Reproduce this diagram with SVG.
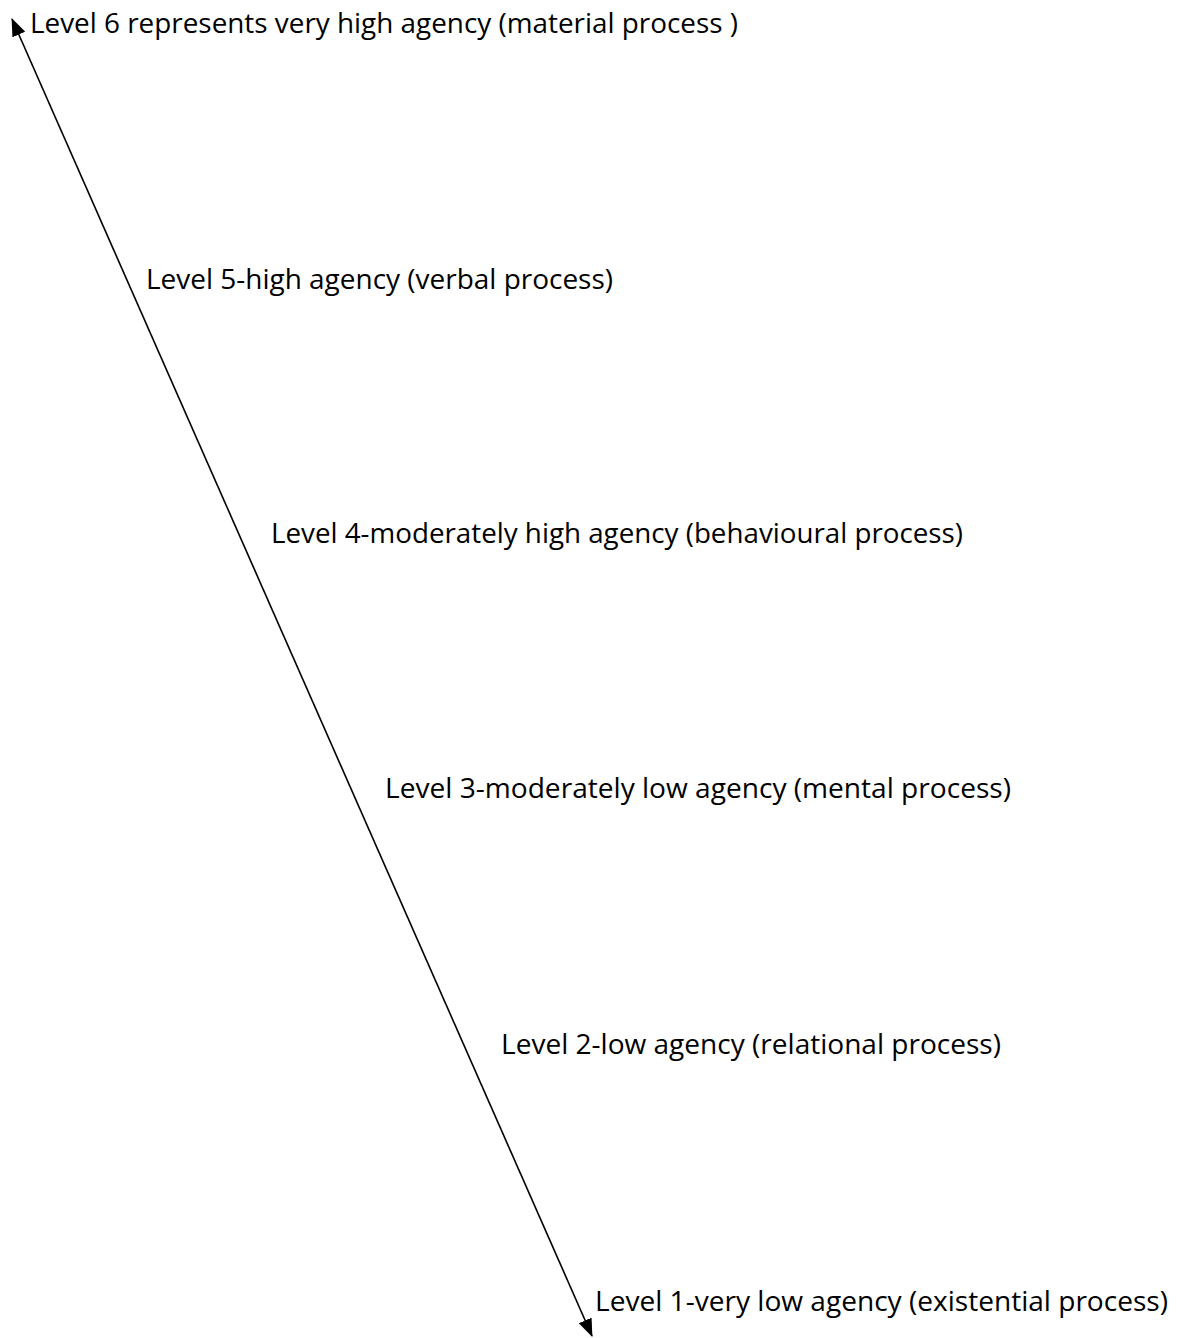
<svg xmlns="http://www.w3.org/2000/svg" width="1179" height="1338" viewBox="0 0 1179 1338">
  <style>
    .lbl { font-family: "Open Sans", "Noto Sans", "Liberation Sans", sans-serif; font-size: 27px; fill: #000; }
    .axis { stroke: #000; stroke-width: 1.6; fill: none; }
  </style>
  <defs>
    <marker id="head" viewBox="0 0 18 14" refX="17" refY="7" markerWidth="18" markerHeight="14" markerUnits="userSpaceOnUse" orient="auto-start-reverse">
      <path d="M0,0 L18,7 L0,14 Z" fill="#000"/>
    </marker>
  </defs>
  <rect width="1179" height="1338" fill="#fff"/>

  <!-- agency scale: double-headed diagonal axis -->
  <g id="connectors">
    <line class="axis" x1="12" y1="19" x2="592" y2="1336" marker-start="url(#head)" marker-end="url(#head)"/>
  </g>

  <g id="level6"><text class="lbl" x="30" y="33" textLength="708" lengthAdjust="spacingAndGlyphs">Level 6 represents very high agency (material process )</text></g>
  <g id="level5"><text class="lbl" x="146" y="289" textLength="467" lengthAdjust="spacingAndGlyphs">Level 5-high agency (verbal process)</text></g>
  <g id="level4"><text class="lbl" x="271" y="543" textLength="692" lengthAdjust="spacingAndGlyphs">Level 4-moderately high agency (behavioural process)</text></g>
  <g id="level3"><text class="lbl" x="385" y="798" textLength="626" lengthAdjust="spacingAndGlyphs">Level 3-moderately low agency (mental process)</text></g>
  <g id="level2"><text class="lbl" x="501" y="1054" textLength="500" lengthAdjust="spacingAndGlyphs">Level 2-low agency (relational process)</text></g>
  <g id="level1"><text class="lbl" x="595" y="1311" textLength="573" lengthAdjust="spacingAndGlyphs">Level 1-very low agency (existential process)</text></g>
</svg>
